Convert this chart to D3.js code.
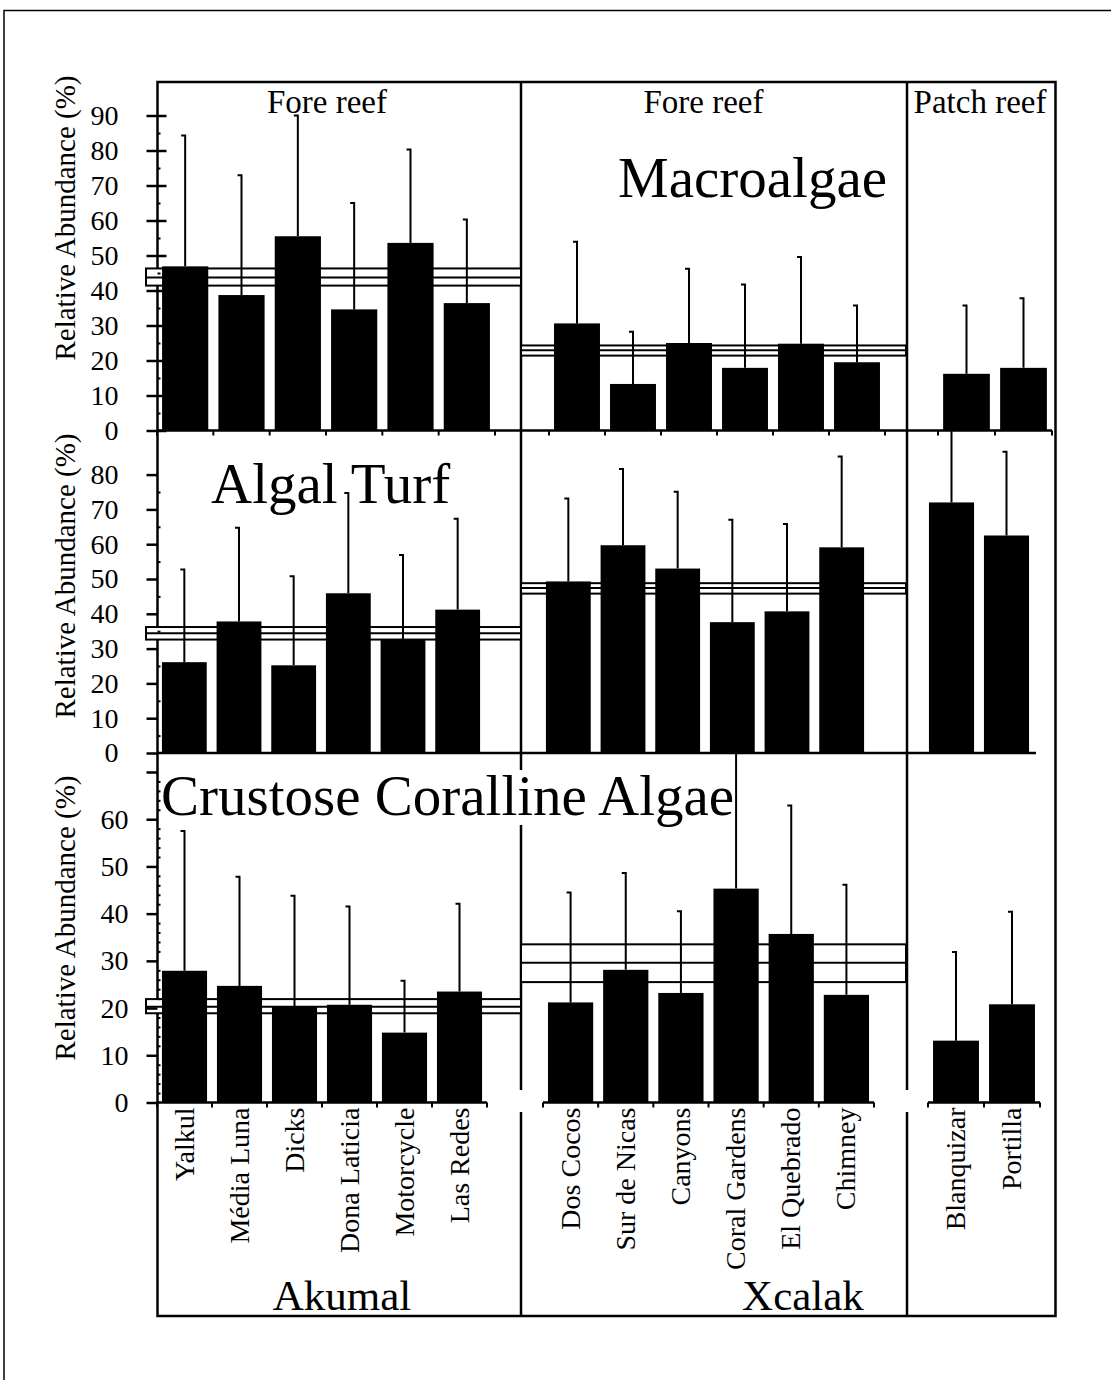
<!DOCTYPE html>
<html lang="en">
<head>
<meta charset="UTF-8">
<title>Relative abundance of algae at Akumal and Xcalak</title>
<style>
  body { margin: 0; background: #FFFFFF; }
  svg { display: block; }
  svg text { font-family: "Liberation Serif", "Times New Roman", serif; }
</style>
</head>
<body>
<svg id="chart" width="1111" height="1380"></svg>
<script src="https://d3js.org/d3.v7.min.js"></script>
<script>
// Sites, grouped by location / reef type
const akumalSites = ["Yalkul", "Média Luna", "Dicks", "Dona Laticia", "Motorcycle", "Las Redes"];
const xcalakSites = ["Dos Cocos", "Sur de Nicas", "Canyons", "Coral Gardens", "El Quebrado", "Chimney"];
const patchSites = ["Blanquizar", "Portilla"];

const reefTypes = ["Fore reef", "Fore reef", "Patch reef"];
const locations = ["Akumal", "Xcalak"];
const rowTitles = ["Macroalgae", "Algal Turf", "Crustose Coralline Algae"];
const yTitle = "Relative Abundance (%)";

// Means and SD, in site order (Akumal, Xcalak, Patch reef)
const macroMean = [46.9, 38.7, 55.5, 34.6, 53.6, 36.4, 30.6, 13.3, 25.0, 17.9, 24.8, 19.5, 16.2, 17.9];
const macroSd   = [37.4, 34.2, 34.5, 30.4, 26.7, 23.9, 23.3, 14.9, 21.2, 23.8, 24.8, 16.2, 19.5, 19.9];
const turfMean  = [26.1, 37.8, 25.2, 45.9, 32.6, 41.2, 49.3, 59.7, 53.0, 37.6, 40.7, 59.1, 72.0, 62.5];
const turfSd    = [26.6, 26.9, 25.6, 28.8, 24.3, 26.1, 23.8, 21.9, 22.1, 29.4, 25.1, 26.1, 24.0, 24.1];
const ccaMean   = [27.9, 24.7, 20.3, 20.7, 14.8, 23.5, 21.2, 28.1, 23.2, 45.3, 35.7, 22.8, 13.1, 20.8];
const ccaSd     = [29.6, 23.1, 23.5, 20.8, 11.0, 18.6, 23.3, 20.5, 17.3, 31.0, 27.2, 23.3, 18.8, 19.6];

// Location mean with +/- SE band: [mean, low, high] for Akumal, Xcalak
const macroBand = [[43.7, 41.4, 46.3], [22.9, 21.4, 24.3]];
const turfBand  = [[34.4, 32.6, 36.2], [47.4, 45.8, 48.8]];
const ccaBand   = [[20.3, 18.9, 21.9], [29.6, 25.5, 33.5]];

// Y ticks
const macroTicks = [0, 10, 20, 30, 40, 50, 60, 70, 80, 90];
const turfTicks  = [0, 10, 20, 30, 40, 50, 60, 70, 80];
const ccaTicks   = [0, 10, 20, 30, 40, 50, 60, 70];
const ccaLabelMax = 60;

const siteGroups = [akumalSites, xcalakSites, patchSites];

// Layout
const frame = { left: 157.5, right: 1055.5, top: 82, bottom: 1316 };
const dividers = [521, 907];
const bandX = [[146, 521], [521, 906]];

const rows = [
  { mean: macroMean, sd: macroSd, band: macroBand, ticks: macroTicks, labelMax: 90,
    yRange: [430.5, 115.5], top: 82, tickPad: 28, cross: true, minorStep: 5,
    panels: [[157, 495], [549, 885], [938, 1052]], titlePos: [618, 197], axisTitleY: 218,
    baseline: [157, 1052], xTicks: true },
  { mean: turfMean, sd: turfSd, band: turfBand, ticks: turfTicks, labelMax: 80,
    yRange: [753, 474.6], top: 431, tickPad: 28, cross: false, minorStep: 5,
    panels: [[157, 485], [541, 869], [924, 1034]], titlePos: [211, 503], axisTitleY: 576,
    baseline: [157, 1036], xTicks: false },
  { mean: ccaMean, sd: ccaSd, band: ccaBand, ticks: ccaTicks, labelMax: ccaLabelMax,
    yRange: [1102.5, 772], top: 753, tickPad: 18, cross: false, minorStep: 2,
    panels: [[157, 487], [543, 874], [928, 1040]], titlePos: [161, 815], axisTitleY: 918,
    baseline: null, xTicks: true }
];

const svg = d3.select("#chart");

// outer page frame (cut off at right and bottom)
svg.append("rect")
  .attr("x", 4).attr("y", 10.5)
  .attr("width", 1200).attr("height", 1500)
  .attr("fill", "none").attr("stroke", "#000").attr("stroke-width", 1.5);

// main frame and dividers
const frameG = svg.append("g").attr("stroke", "#000").attr("stroke-width", 2.5).attr("fill", "none");
frameG.append("path")
  .attr("d", `M${frame.left},${frame.top}H${frame.right}V${frame.bottom}H${frame.left}Z`);
dividers.forEach(x => {
  frameG.append("line").attr("x1", x).attr("x2", x).attr("y1", frame.top).attr("y2", 1090);
  frameG.append("line").attr("x1", x).attr("x2", x).attr("y1", 1112).attr("y2", frame.bottom);
});

// reef type headers
const headerX = [327, 703.5, 980];
reefTypes.forEach((t, i) => {
  svg.append("text")
    .attr("x", headerX[i]).attr("y", 113)
    .attr("text-anchor", "middle")
    .attr("font-size", 33)
    .text(t);
});

// big row titles with white backing
rows.forEach((row, r) => {
  const g = svg.append("g");
  const t = g.append("text")
    .attr("x", row.titlePos[0]).attr("y", row.titlePos[1])
    .attr("font-size", 57)
    .text(rowTitles[r]);
  const bb = t.node().getBBox();
  g.insert("rect", "text")
    .attr("x", bb.x).attr("y", bb.y + 6)
    .attr("width", bb.width).attr("height", bb.height - 8)
    .attr("fill", "#FFFFFF");
});

rows.forEach((row, r) => {
  const g = svg.append("g");
  const y = d3.scaleLinear().domain([0, row.ticks[row.ticks.length - 1]]).range(row.yRange);

  const clipId = `clip-${r}`;
  svg.append("clipPath").attr("id", clipId)
    .append("rect").attr("x", 0).attr("y", row.top).attr("width", 1111).attr("height", row.yRange[0] - row.top);

  // location mean +/- SE bands
  row.band.forEach((b, i) => {
    g.append("rect")
      .attr("x", bandX[i][0]).attr("y", y(b[2]))
      .attr("width", bandX[i][1] - bandX[i][0]).attr("height", y(b[1]) - y(b[2]))
      .attr("fill", "#FFFFFF").attr("stroke", "#000").attr("stroke-width", 2);
    g.append("line")
      .attr("x1", bandX[i][0]).attr("x2", bandX[i][1])
      .attr("y1", y(b[0])).attr("y2", y(b[0]))
      .attr("stroke", "#000").attr("stroke-width", 2);
  });

  // bars and error bars per panel
  let offset = 0;
  siteGroups.forEach((sites, p) => {
    const x = d3.scaleBand().domain(sites).range(row.panels[p]);
    const bw = x.bandwidth() * 0.82;
    const data = sites.map((s, k) => ({ site: s, mean: row.mean[offset + k], sd: row.sd[offset + k] }));
    offset += sites.length;

    g.append("g").attr("clip-path", `url(#${clipId})`)
      .selectAll("path")
      .data(data)
      .join("path")
      .attr("d", d => {
        const cx = x(d.site) + x.bandwidth() / 2;
        return `M${cx - 4},${y(d.mean + d.sd)}H${cx}V${y(d.mean)}`;
      })
      .attr("fill", "none").attr("stroke", "#000").attr("stroke-width", 2);

    g.selectAll(null)
      .data(data)
      .join("rect")
      .attr("x", d => x(d.site) + (x.bandwidth() - bw) / 2)
      .attr("y", d => y(d.mean))
      .attr("width", bw)
      .attr("height", d => y(0) - y(d.mean))
      .attr("fill", "#000");

    // x axis with ticks at category boundaries
    if (row.xTicks) {
      const edges = sites.map(s => x(s)).concat([row.panels[p][1]]);
      g.selectAll(null)
        .data(edges)
        .join("line")
        .attr("x1", d => d).attr("x2", d => d)
        .attr("y1", y(0)).attr("y2", y(0) + 5)
        .attr("stroke", "#000").attr("stroke-width", 2);
    }
    if (!row.baseline) {
      g.append("line")
        .attr("x1", row.panels[p][0]).attr("x2", row.panels[p][1])
        .attr("y1", y(0)).attr("y2", y(0))
        .attr("stroke", "#000").attr("stroke-width", 2.5);
    }

    // site names under the bottom row
    if (r === rows.length - 1) {
      svg.append("g")
        .selectAll("text")
        .data(sites)
        .join("text")
        .attr("transform", d => `translate(${x(d) + x.bandwidth() / 2 + 9},${y(0) + 5}) rotate(-90)`)
        .attr("text-anchor", "end")
        .attr("font-size", 28)
        .text(d => d);
    }
  });

  if (row.baseline) {
    g.append("line")
      .attr("x1", row.baseline[0]).attr("x2", row.baseline[1])
      .attr("y1", y(0)).attr("y2", y(0))
      .attr("stroke", "#000").attr("stroke-width", 2.5);
  }

  // y axis
  const yAxis = d3.axisLeft(y)
    .tickValues(row.ticks)
    .tickSize(11)
    .tickPadding(row.tickPad)
    .tickFormat(d => d <= row.labelMax ? d : "");
  const ax = g.append("g").attr("transform", `translate(${frame.left},0)`).call(yAxis);
  ax.attr("font-family", null).attr("font-size", null);
  ax.select(".domain").remove();
  ax.selectAll(".tick line").attr("stroke", "#000").attr("stroke-width", 2.5);
  ax.selectAll(".tick text")
    .attr("fill", "#000")
    .attr("font-size", 28);

  if (row.cross) {
    const inner = g.append("g").attr("transform", `translate(${frame.left},0)`)
      .call(d3.axisRight(y).tickValues(row.ticks).tickSize(9).tickFormat(""));
    inner.select(".domain").remove();
    inner.selectAll(".tick line").attr("stroke", "#000").attr("stroke-width", 2.5);
  }

  const minor = d3.range(0, row.ticks[row.ticks.length - 1], row.minorStep)
    .filter(v => !row.ticks.includes(v));
  const mi = g.append("g").attr("transform", `translate(${frame.left},0)`)
    .call(d3.axisRight(y).tickValues(minor).tickSize(3).tickFormat(""));
  mi.select(".domain").remove();
  mi.selectAll(".tick line").attr("stroke", "#000").attr("stroke-width", 2);

  // y axis title
  svg.append("text")
    .attr("transform", `translate(75,${row.axisTitleY}) rotate(-90)`)
    .attr("text-anchor", "middle")
    .attr("font-size", 29)
    .text(yTitle);
});

// location labels
const locationX = [342, 803];
locations.forEach((l, i) => {
  svg.append("text")
    .attr("x", locationX[i]).attr("y", 1310)
    .attr("text-anchor", "middle")
    .attr("font-size", 43)
    .text(l);
});
</script>
</body>
</html>
